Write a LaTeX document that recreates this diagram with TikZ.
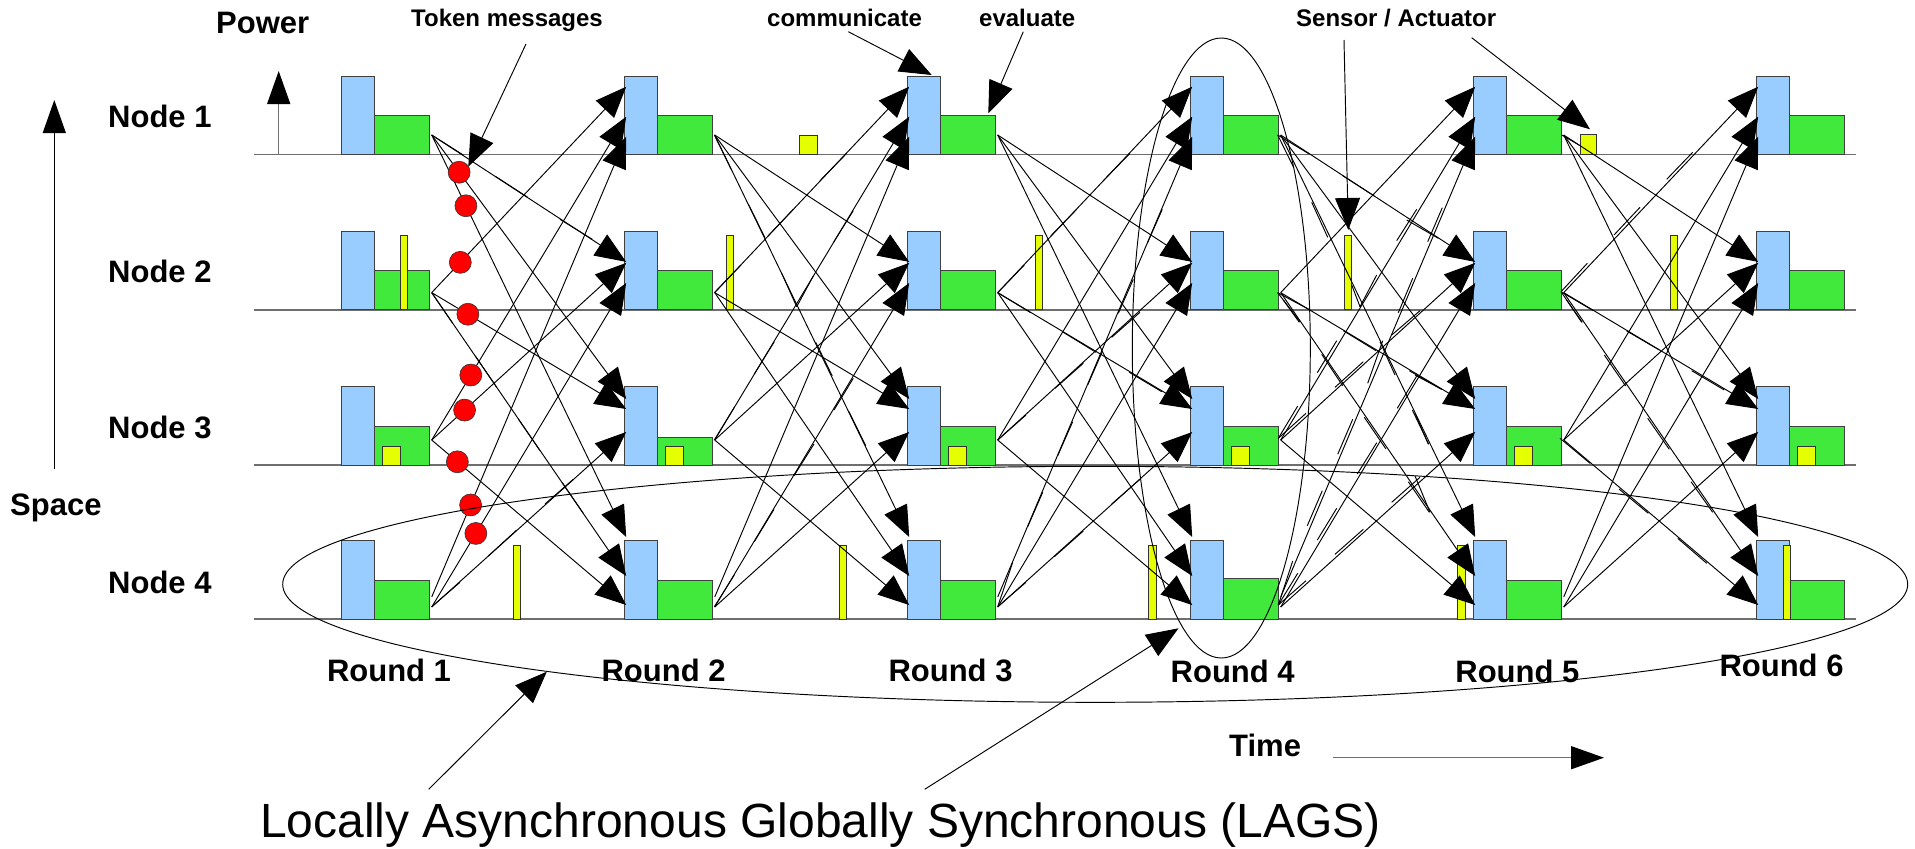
\documentclass[tikz,border=0pt]{standalone}
\usepackage{fontspec}
\setmainfont{Liberation Sans}
\usetikzlibrary{arrows.meta}
\definecolor{cpuBlue}{RGB}{153,204,255}
\definecolor{radioGreen}{RGB}{64,233,60}
\definecolor{senseYellow}{RGB}{230,255,0}
\definecolor{rowGray}{RGB}{110,110,110}
\begin{document}
\begin{tikzpicture}[x=1pt,y=-1pt,
  cpubox/.style={fill=cpuBlue,draw=black!75,line width=0.9pt},
  radiobox/.style={fill=radioGreen,draw=black!75,line width=0.9pt},
  sensebox/.style={fill=senseYellow,draw=black!80,line width=0.9pt},
  msg/.style={draw=black,line width=0.95pt,-{Triangle[length=31pt,width=25pt]}},
  ghost/.style={draw=black,line width=0.95pt},
  token/.style={circle,fill=red,draw=black!80,line width=0.6pt,minimum size=22pt,inner sep=0pt},
  callout/.style={draw=black,line width=0.95pt,-{Triangle[length=32pt,width=25pt]}},
  axisarrow/.style={draw=rowGray,line width=1.5pt,-{Triangle[length=33pt,width=23pt,color=black]}},
  lbl/.style={inner sep=0pt,font=\fontsize{31}{37}\selectfont\bfseries},
  note/.style={inner sep=0pt,font=\fontsize{24}{29}\selectfont\bfseries},
  rowline/.style={draw=rowGray,line width=1.5pt}]

\useasboundingbox (0,0) rectangle (1915,849);

% time lines of the four nodes
\foreach \k/\L in {1/154.7,2/309.9,3/465,4/619}
  \draw[rowline] (254,\L) -- (1856,\L);

% processing (blue) and radio (green) phases of every round
\foreach \r/\X in {1/341.7,2/624.7,3/907.7,4/1190.7,5/1473.7,6/1756.7}{
  \foreach \k/\L in {1/154.7,2/309.9,3/465,4/619}{
    \pgfmathsetmacro\g{(\k==3 && \r==2) ? 27.3 : ((\k==4 && \r==4) ? 41 : 39)}
    \draw[cpubox] (\X,\L) rectangle ({\X+32.7},{\L-78.5});
    \draw[radiobox] ({\X+32.7},\L) rectangle ({\X+87.3},{\L-\g});
  }
  % sensor sample inside the radio phase of node 3
  \draw[sensebox] ({\X+41},465) rectangle ({\X+58.5},446);
  % message sources
  \foreach \i/\L/\h in {1/154.7/19.7,2/309.9/17.3,3/465/25}{
    \foreach \j in {1,2,3,4}{
      \coordinate (s-\r-\i-\j) at ({\X+90},{\L-\h});
    }
  }
  \coordinate (s-\r-4-1) at ({\X+90},597);
  \coordinate (s-\r-4-2) at ({\X+90},607);
  \coordinate (s-\r-4-3) at ({\X+90},607);
  % message targets on the blue phase
  \foreach \j/\L/\i/\t in {1/154.7/2/68,1/154.7/3/38,1/154.7/4/18,
                           2/309.9/1/48,2/309.9/3/47,2/309.9/4/27,
                           3/465/1/66,3/465/2/56,3/465/4/33,
                           4/619/1/82,4/619/2/43,4/619/3/14}{
    \coordinate (t-\r-\j-\i) at ({\X+1.5},{\L-\t});
  }
}

% sensor / actuator events
\draw[sensebox] (799.3,154.7) rectangle (817.3,135.3);
\draw[sensebox] (1580,154.7) rectangle (1596.7,134.3);
\foreach \x in {400.7,726,1035,1344.3,1670.3}
  \draw[sensebox] (\x,309.9) rectangle ({\x+7},235.7);
\foreach \x in {513.3,839.3,1148.7,1457.7,1783.3}
  \draw[sensebox] (\x,619) rectangle ({\x+7.3},545.7);

% all-to-all messages between consecutive rounds
\foreach \r [evaluate=\r as \n using {int(\r+1)}] in {1,...,5}{
  \foreach \i/\j in {1/2,1/3,1/4,2/1,2/3,2/4,3/1,3/2,3/4,4/1,4/2,4/3}{
    \draw[msg] (s-\r-\i-\j) -- (t-\n-\j-\i);
  }
}

% broken arrow fragments
\foreach \a/\b/\c/\d in {
 496/176.7/527.7/197.3, 560/219.3/592.3/239.3, 714.3/135/731/169,
 748.3/204/765/237.7, 767.3/236.7/793.3/209.3, 820/180.7/846.7/153.3,
 833.3/242.7/853.3/210.7, 714.3/292.7/741/265, 781.7/273.3/796.7/306.7,
 796.7/306.7/813.3/276, 1103.3/180.7/1130/153.3, 1050.7/236/1076.7/209.3,
 997.7/292.7/1024.3/265, 997.7/292.7/1030.7/312.7, 1147.3/243.3/1162.3/209.3,
 1277.7/135/1309.3/154, 1277.7/135/1293.3/166.7, 1311.7/202.3/1327.7/237.3,
 1342.7/175.7/1374.3/196, 1396.7/240.7/1416.7/209.3, 1406.7/220/1438.3/238.3,
 1427.7/241.7/1442.3/207.7, 1277.7/292.7/1310/310, 1277.7/292.7/1300/321.7,
 1351.7/285/1360/306.7, 1360/306.7/1376.7/275, 1398.3/312.7/1412.7/278.3,
 1118.3/313.3/1133.3/279.3, 1561.7/135/1579/145, 1666.7/179.3/1692.7/152.3,
 1614/235/1640/207.3, 1561/291.7/1587.3/263.3, 1561/291.7/1593.3/310.7,
 1561/291.7/1581.7/322.3, 475.3/356/496.7/387.3, 518.3/419/540/450.7,
 562.3/482.7/583.3/513.3, 545/504/573.3/479.3, 488.3/556/516.7/530,
 431.7/606.7/460/582.3, 431.7/292.7/452.7/323.3, 431.7/135/463.3/155,
 754.3/374/774.3/341.7, 815.7/342.3/832.3/376, 834/410/853.3/378.3,
 849/411.7/865.7/445.7, 794/475.7/814/444, 714.3/440/734.3/407.3,
 754.3/541.7/774/509.3, 714.3/606.7/734.3/575, 997.7/440/1026/415,
 997.7/606.7/1012.7/562.3, 997.7/606.7/1026/582.3, 1057.7/455.7/1072.7/421.7,
 1055/388.3/1083.3/363.3, 1063.3/332.3/1096/352.3, 1087.7/385/1102.7/350.7,
 1111.7/337.3/1140/312.3, 1129.3/372.3/1161.7/391.7, 1027.7/526.7/1042.7/492.3,
 1054.3/556.7/1083.3/531, 1111.7/504/1140/479.3, 1278.3/438.3/1297.7/406,
 1278.3/438.3/1306/413.3, 1278.3/605/1292.7/561, 1278.3/605/1297.7/573.3,
 1278.3/605/1306/580.7, 1283.3/300/1299.3/322.3, 1343.3/330.7/1376/350.7,
 1317.3/372.7/1336.7/340.7, 1321.7/354.3/1342.7/385.7, 1335/387.3/1363.3/361.7,
 1367.7/383.3/1382.7/340.7, 1380/341.7/1395/375, 1391.7/335/1420/310.7,
 1397.3/408.3/1416.7/376, 1409.3/370.7/1441.7/389.3, 1412.3/410/1428.7/444.3,
 1337.7/454.3/1352.7/419.3, 1364.3/417.3/1386/449, 1357.3/474/1376.7/442.7,
 1391.7/502.3/1420/477.3, 1408.3/481.7/1429.3/512.3, 1307.3/525.7/1322.3/490.7,
 1317.3/540/1336.7/508.3, 1335/554.3/1363.3/529.3, 1560/438.3/1590/463.3,
 1604.3/355/1625.7/386, 1626.7/331/1659.3/350, 1647.7/418.3/1669.3/449.3,
 1691.7/370.7/1724.3/390, 1619/489/1648.3/513.3, 1691/481.7/1712.7/512.3,
 1677.7/538.3/1706.7/563.3, 1415/476/1430/512.3, 1415/413.3/1428.3/444,
 1415/375/1441.7/389.3, 1566.7/300/1582.3/322.3}
  \draw[ghost] (\a,\b) -- (\c,\d);

% token messages of the first round
\path (s-1-1-3) -- node[token,pos=0.141] (tk1) {} (t-2-3-1);
\path (s-1-1-4) -- node[token,pos=0.176] (tk2) {} (t-2-4-1);
\path (s-1-2-1) -- node[token,pos=0.147] (tk3) {} (t-2-1-2);
\path (s-1-2-3) -- node[token,pos=0.186] (tk4) {} (t-2-3-2);
\path (s-1-3-1) -- node[token,pos=0.201] (tk5) {} (t-2-1-3);
\path (s-1-3-2) -- node[token,pos=0.169] (tk6) {} (t-2-2-3);
\path (s-1-3-4) -- node[token,pos=0.132] (tk7) {} (t-2-4-3);
\path (s-1-4-1) -- node[token,pos=0.200] (tk8) {} (t-2-1-4);
\path (s-1-4-2) -- node[token,pos=0.227] (tk9) {} (t-2-2-4);

% synchronous round (horizontal) and asynchronous slice (vertical)
\draw[line width=0.95pt] (1095.2,584.3) ellipse [x radius=812.5pt, y radius=118pt];
\draw[line width=0.95pt] (1221.3,348) ellipse [x radius=89pt, y radius=310pt];

% axes
\coordinate (power-base) at (278.7,154.7);
\coordinate (power-tip) at (278.7,71);
\draw[axisarrow] (power-base) -- (power-tip);
\coordinate (space-base) at (54.3,469);
\coordinate (space-tip) at (54.3,100);
\draw[line width=1.2pt,-{Triangle[length=33pt,width=23pt]}] (space-base) -- (space-tip);
\coordinate (time-base) at (1333.4,757.7);
\coordinate (time-tip) at (1604,757.7);
\draw[axisarrow] (time-base) -- (time-tip);

% labels
\node[lbl,anchor=base west] (power) at (216,33.3) {Power};
\node[lbl,anchor=base west] (space) at (10,515) {Space};
\node[lbl,anchor=base west] (time) at (1229,756.7) {Time};
\node[lbl,anchor=base west] (n1) at (108,127) {Node 1};
\node[lbl,anchor=base west] (n2) at (108,282.7) {Node 2};
\node[lbl,anchor=base west] (n3) at (108,438.4) {Node 3};
\node[lbl,anchor=base west] (n4) at (108,593.7) {Node 4};
\node[lbl,anchor=base] (rd1) at (389,681.7) {Round 1};
\node[lbl,anchor=base] (rd2) at (663.6,681.7) {Round 2};
\node[lbl,anchor=base] (rd3) at (950.5,681.7) {Round 3};
\node[lbl,anchor=base] (rd4) at (1232.7,682) {Round 4};
\node[lbl,anchor=base] (rd5) at (1517.4,682) {Round 5};
\node[lbl,anchor=base] (rd6) at (1781.5,676) {Round 6};
\node[note,anchor=base west] (tok) at (411,26.7) {Token messages};
\node[note,anchor=base west] (comm) at (767,26.7) {communicate};
\node[note,anchor=base west] (eval) at (979,26.7) {evaluate};
\node[note,anchor=base west] (sens) at (1296,26.7) {Sensor / Actuator};
\node[inner sep=0pt,anchor=base west,font=\fontsize{48}{56}\selectfont] (lags) at (260,837.3)
  {Locally Asynchronous Globally Synchronous (LAGS)};

% callouts
\coordinate (tok-from) at (526,44);
\coordinate (tok-to) at (468.3,166.7);
\draw[callout] (tok-from) -- (tok-to);
\coordinate (comm-from) at (848.3,31.7);
\coordinate (comm-to) at (931.7,75);
\draw[callout] (comm-from) -- (comm-to);
\coordinate (eval-from) at (1023.3,31.7);
\coordinate (eval-to) at (988.3,113.3);
\draw[callout] (eval-from) -- (eval-to);
\coordinate (sens-from-a) at (1344,40);
\coordinate (sens-to-a) at (1348.3,230);
\draw[callout] (sens-from-a) -- (sens-to-a);
\coordinate (sens-from-b) at (1471.7,37.7);
\coordinate (sens-to-b) at (1590,129.3);
\draw[callout] (sens-from-b) -- (sens-to-b);
\coordinate (lags-from-a) at (428.7,789.3);
\coordinate (lags-to-a) at (546.8,671.7);
\draw[callout] (lags-from-a) -- (lags-to-a);
\coordinate (lags-from-b) at (924.7,789.3);
\coordinate (lags-to-b) at (1178.5,628.3);
\draw[callout] (lags-from-b) -- (lags-to-b);
\end{tikzpicture}
\end{document}
